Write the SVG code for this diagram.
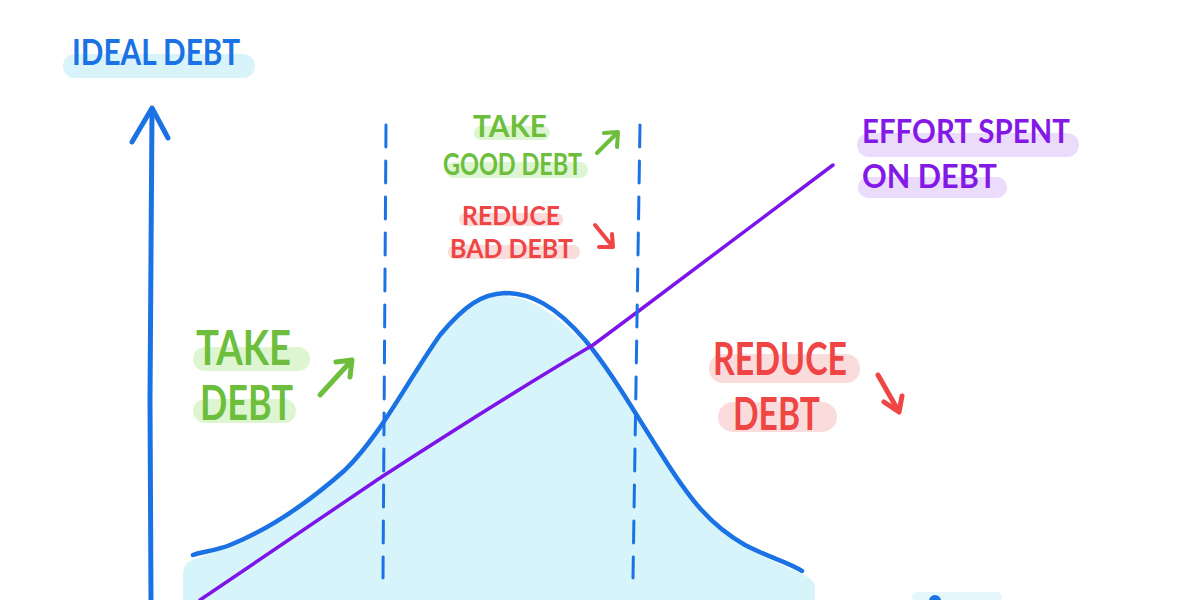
<svg xmlns="http://www.w3.org/2000/svg" width="1200" height="600" viewBox="0 0 1200 600">
<style>
.t{font-family:"Lato","DejaVu Sans",sans-serif;font-weight:700;}
.blue{fill:#1b72e4}.green{fill:#6cbe3c}.red{fill:#ef4545}.purple{fill:#8418e6}
.hb{fill:#d9f3fb}.hg{fill:#ddf5d1}.hr{fill:#fbdcdc}.hp{fill:#ecdcfb}
.ln{fill:none;stroke-linecap:round;stroke-linejoin:round}
</style>
<rect width="1200" height="600" fill="#ffffff"/>
<g id="area">
<path d="M183,600 L183,572 Q185,560 198,558 C240,545 300,516 350,465 C380,430 410,372 440,335 C465,305 485,296 505,296 C530,298 555,312 585,345 C610,372 635,410 665,460 C690,500 720,535 760,555 C790,570 812,575 815,585 L815,600 Z" fill="#d7f4fb"/>
</g>
<g id="curve">
<path class="ln" d="M193,555 C200,552 215,551 230,545 C260,533 300,510 345,470 C380,436 405,385 440,335 C465,305 482,294 505,293 C530,293 555,305 585,340 C610,370 630,405 660,452 C690,500 710,525 745,545 C770,558 790,563 802,571" stroke="#1b72e4" stroke-width="4.5"/>
</g>
<g id="effort-line">
<path class="ln" d="M200,600 L380,478 Q500,400 593,345 L640,310 L833,165" stroke="#7d14e8" stroke-width="3.5"/>
</g>
<g id="dividers">
<path class="ln" d="M386,125 L383,578" stroke="#1b72e4" stroke-width="3" stroke-dasharray="22 14"/>
<path class="ln" d="M640,125 L633,578" stroke="#1b72e4" stroke-width="3" stroke-dasharray="22 14"/>
</g>
<g id="connectors">
<path class="ln" d="M151,600 L150,400 L152,110" stroke="#1b72e4" stroke-width="5"/>
<path class="ln" d="M132,142 L152,108 L168,138" stroke="#1b72e4" stroke-width="5"/>
<path class="ln" d="M597,153 L618,132 M604,133 L618,132 L617,147" stroke="#6cbe3c" stroke-width="4"/>
<path class="ln" d="M595,225 L613,247 M599,247 L613,247 L612,234" stroke="#ef4545" stroke-width="4"/>
<path class="ln" d="M320,395 L352,360 M336,362 L352,360 L350,377" stroke="#6cbe3c" stroke-width="5"/>
<path class="ln" d="M878,375 L899,412 M884,402 L899,412 L902,396" stroke="#ef4545" stroke-width="5"/>
</g>
<g id="x-axis-stub">
<rect x="912" y="592" width="90" height="10" rx="5" fill="#e6f7fc"/>
<circle cx="935" cy="601" r="6" fill="#1b72e4"/>
</g>
<g id="label-ideal-debt">
<rect x="63" y="54" width="192" height="24" rx="12" class="hb"/>
<text class="t blue" x="72" y="65" font-size="36" textLength="168" lengthAdjust="spacingAndGlyphs">IDEAL DEBT</text>
</g>
<g id="label-take-good-debt">
<rect x="474" y="126" width="76" height="14" rx="7" class="hg"/>
<rect x="446" y="162" width="142" height="16" rx="8" class="hg"/>
<text class="t green" x="473" y="137" font-size="31" textLength="74" lengthAdjust="spacingAndGlyphs">TAKE</text>
<text class="t green" x="443" y="175" font-size="31" textLength="139" lengthAdjust="spacingAndGlyphs">GOOD DEBT</text>
</g>
<g id="label-reduce-bad-debt">
<rect x="459" y="213" width="104" height="13" rx="6" class="hr"/>
<rect x="448" y="245" width="132" height="14" rx="7" class="hr"/>
<text class="t red" x="462" y="225" font-size="27" textLength="98" lengthAdjust="spacingAndGlyphs">REDUCE</text>
<text class="t red" x="450" y="258" font-size="27" textLength="123" lengthAdjust="spacingAndGlyphs">BAD DEBT</text>
</g>
<g id="label-effort">
<rect x="857" y="133" width="222" height="24" rx="12" class="hp"/>
<rect x="858" y="177" width="149" height="21" rx="10" class="hp"/>
<text class="t purple" x="862" y="143" font-size="33" textLength="208" lengthAdjust="spacingAndGlyphs">EFFORT SPENT</text>
<text class="t purple" x="862" y="188" font-size="33" textLength="135" lengthAdjust="spacingAndGlyphs">ON DEBT</text>
</g>
<g id="label-take-debt">
<rect x="193" y="347" width="117" height="24" rx="12" class="hg"/>
<rect x="193" y="399" width="103" height="24" rx="12" class="hg"/>
<text class="t green" x="196" y="365" font-size="48" textLength="95" lengthAdjust="spacingAndGlyphs">TAKE</text>
<text class="t green" x="200" y="420" font-size="48" textLength="93" lengthAdjust="spacingAndGlyphs">DEBT</text>
</g>
<g id="label-reduce-debt">
<rect x="709" y="354" width="151" height="29" rx="14" class="hr"/>
<rect x="718" y="402" width="119" height="30" rx="15" class="hr"/>
<text class="t red" x="713" y="375" font-size="46" textLength="134" lengthAdjust="spacingAndGlyphs">REDUCE</text>
<text class="t red" x="733" y="430" font-size="46" textLength="87" lengthAdjust="spacingAndGlyphs">DEBT</text>
</g>
</svg>
